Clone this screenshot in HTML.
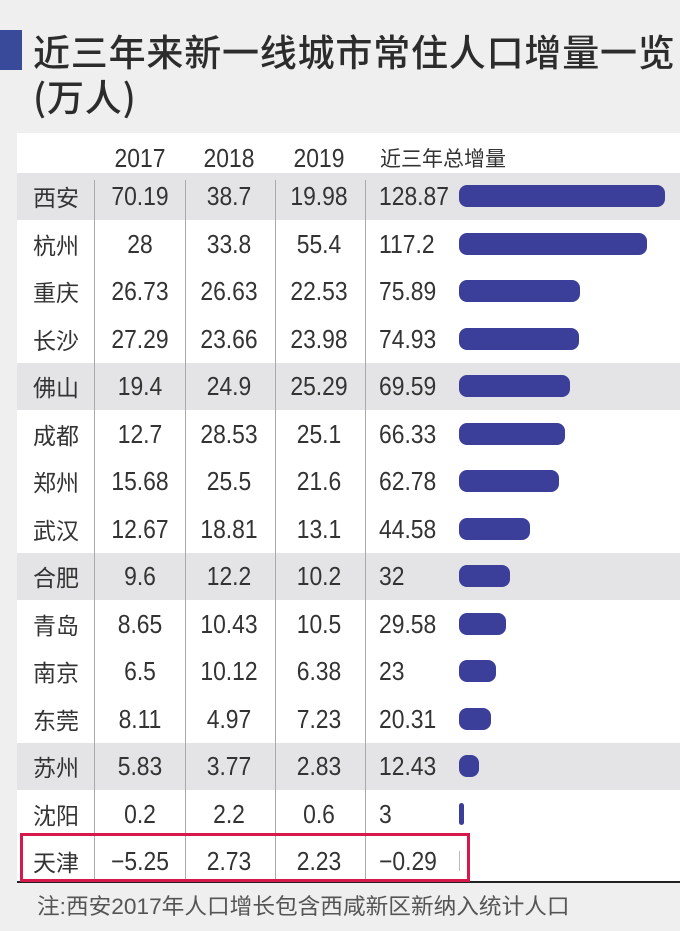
<!DOCTYPE html>
<html><head><meta charset="utf-8"><style>
body{margin:0;width:680px;height:931px;background:#efefef;position:relative;overflow:hidden;font-family:"Liberation Sans","Noto Sans CJK SC",sans-serif;color:#333}
.t{position:absolute;font-family:"Noto Sans CJK SC",sans-serif;font-weight:500;color:#2c2c2c;font-size:37px;line-height:40px;letter-spacing:0.8px}
#tbl{position:absolute;left:17px;top:133px;width:663px;height:750px;background:#fff}
.band{position:absolute;left:17px;width:663px;height:47px;background:#e4e4e6}
.vl{position:absolute;top:180px;width:1px;height:702px;background:#aaa}
.c{position:absolute;font-size:26px;line-height:30px;text-align:center;transform:scaleX(0.88)}
.n{font-family:"Noto Sans CJK SC",sans-serif;font-size:23px}
.bar{position:absolute;left:459px;height:22px;background:#3c3f9a;border-radius:8px}
</style></head><body>
<div style="position:absolute;left:0;top:30px;width:22px;height:40px;background:#3a4a9a"></div>
<div class="t" style="left:33px;top:30px">近三年来新一线城市常住人口增量一览</div>
<div class="t" style="left:33px;top:75px">(万人)</div>
<div id="tbl"></div>
<div class="band" style="top:173px"></div>
<div class="band" style="top:363px"></div>
<div class="band" style="top:553px"></div>
<div class="band" style="top:743px"></div>
<div class="vl" style="left:94px"></div><div class="vl" style="left:185px"></div><div class="vl" style="left:275px"></div><div class="vl" style="left:365px"></div>
<div style="position:absolute;left:17px;top:881px;width:663px;height:2px;background:#222"></div>
<div style="position:absolute;left:20px;top:833px;width:444px;height:43px;border:3px solid #d6194a"></div>
<div id="rows"></div>
<div style="position:absolute;left:37px;top:889px;font-size:22px;color:#555;font-family:'Liberation Sans','Noto Sans CJK SC',sans-serif;transform:scaleX(1.03);transform-origin:left">注:西安2017年人口增长包含西咸新区新纳入统计人口</div>
<script>
var d=[["西安","70.19","38.7","19.98","128.87"],["杭州","28","33.8","55.4","117.2"],["重庆","26.73","26.63","22.53","75.89"],["长沙","27.29","23.66","23.98","74.93"],["佛山","19.4","24.9","25.29","69.59"],["成都","12.7","28.53","25.1","66.33"],["郑州","15.68","25.5","21.6","62.78"],["武汉","12.67","18.81","13.1","44.58"],["合肥","9.6","12.2","10.2","32"],["青岛","8.65","10.43","10.5","29.58"],["南京","6.5","10.12","6.38","23"],["东莞","8.11","4.97","7.23","20.31"],["苏州","5.83","3.77","2.83","12.43"],["沈阳","0.2","2.2","0.6","3"],["天津","−5.25","2.73","2.23","−0.29"]];
var h='<div class="c" style="left:100px;top:143px;width:80px">2017</div><div class="c" style="left:189px;top:143px;width:80px">2018</div><div class="c" style="left:279px;top:143px;width:80px">2019</div><div class="n" style="position:absolute;left:380px;top:143px;line-height:30px;font-size:21px">近三年总增量</div>';
d.forEach(function(r,i){var y=181+i*47.5;
h+='<div class="n" style="position:absolute;left:33px;top:'+y+'px;line-height:30px">'+r[0]+'</div>';
h+='<div class="c" style="left:100px;top:'+y+'px;width:80px">'+r[1]+'</div>';
h+='<div class="c" style="left:189px;top:'+y+'px;width:80px">'+r[2]+'</div>';
h+='<div class="c" style="left:279px;top:'+y+'px;width:80px">'+r[3]+'</div>';
h+='<div class="c" style="left:379px;top:'+y+'px;text-align:left;transform-origin:left">'+r[4]+'</div>';
var v=parseFloat(r[4].replace("−","-"));
if(v>0){var w=Math.max(5,v*1.6);h+='<div class="bar" style="top:'+(y+4)+'px;width:'+w+'px;border-radius:'+Math.min(8,w/2)+'px"></div>';}
else h+='<div style="position:absolute;left:459px;top:'+(y+5)+'px;width:1px;height:20px;background:#bbb"></div>';
});
document.getElementById('rows').innerHTML=h;
</script>
</body></html>
